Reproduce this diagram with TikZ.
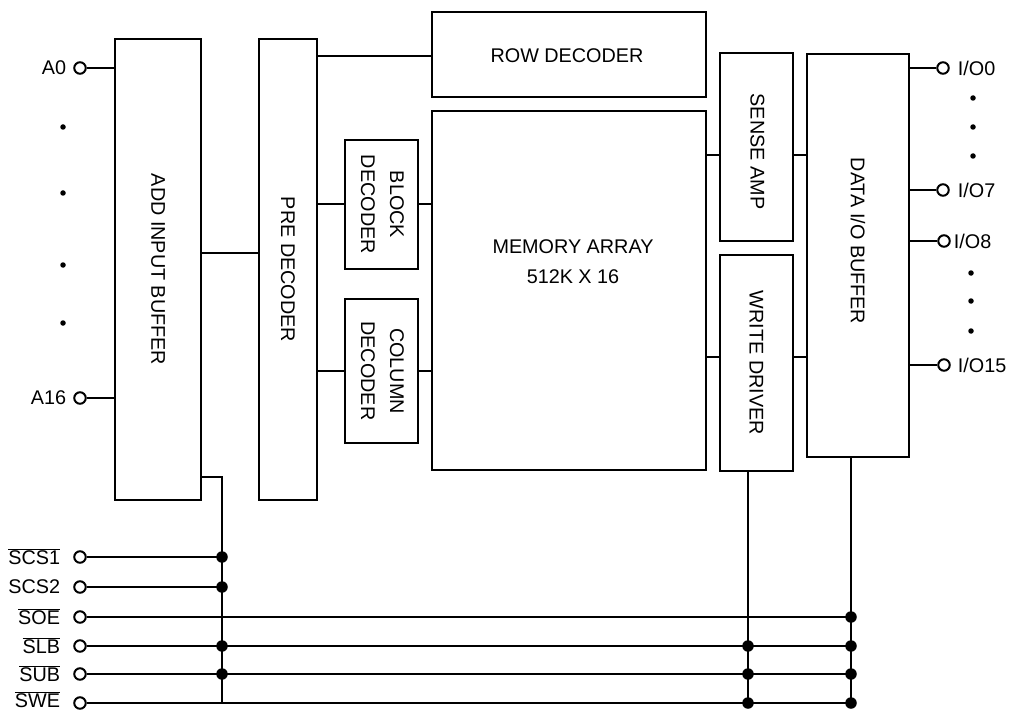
\documentclass[tikz,border=0pt]{standalone}
\usepackage{fontspec}
\setmainfont{Liberation Sans}
\usetikzlibrary{calc}
\begin{document}
\begin{tikzpicture}[x=1pt,y=-1pt,
  every node/.style={font=\fontsize{19.8}{29}\selectfont},
  box/.style={draw,line width=2pt,inner sep=0pt},
  wire/.style={line width=2pt},
  pincirc/.style={circle,draw,line width=2pt,minimum size=11.5pt,inner sep=0pt,fill=white},
  lab/.style={inner sep=0pt},
  jdot/.style={circle,fill=black,minimum size=11.5pt,inner sep=0pt},
  sdot/.style={circle,fill=black,minimum size=5.5pt,inner sep=0pt}]
\useasboundingbox (0,0) rectangle (1019,711);
% boxes
\node[box,minimum width=86pt,minimum height=461pt] (addbuf) at (158,269.5) {\rotatebox{-90}{ADD INPUT BUFFER}};
\node[box,minimum width=58pt,minimum height=461pt] (predec) at (288,269.5) {\rotatebox{-90}{PRE DECODER}};
\node[box,minimum width=274pt,minimum height=85pt] (row) at (569,54.5) {};
\node (rowt) at (567,56) {ROW DECODER};
\node[box,minimum width=274pt,minimum height=359pt] (mem) at (569,290.5) {};
\node (memt1) at (573,247) {MEMORY ARRAY};
\node (memt2) at (573,277) {512K X 16};
\node[box,minimum width=73pt,minimum height=129pt] (block) at (381.5,204.5) {\rotatebox{-90}{\begin{tabular}{@{}c@{}}BLOCK\\DECODER\end{tabular}}};
\node[box,minimum width=73pt,minimum height=144pt] (col) at (381.5,371) {\rotatebox{-90}{\begin{tabular}{@{}c@{}}COLUMN\\DECODER\end{tabular}}};
\node[box,minimum width=73pt,minimum height=188pt] (sense) at (756.5,147) {};
\node (senset) at (757.5,151.5) {\rotatebox{-90}{SENSE AMP}};
\node[box,minimum width=73pt,minimum height=216pt] (wd) at (756.5,363) {\rotatebox{-90}{WRITE DRIVER}};
\node[box,minimum width=102pt,minimum height=403pt] (dio) at (858,255.5) {};
\node (diot) at (858,241) {\rotatebox{-90}{DATA I/O BUFFER}};
% level coordinates
\coordinate (y56) at (0,56);
\coordinate (y253) at (0,253);
\coordinate (y155) at (0,155);
\coordinate (y357) at (0,357);
% internal wires
\draw[wire] (predec.east |- y56) -- (row.west |- y56);
\draw[wire] (addbuf.east |- y253) -- (predec.west |- y253);
\draw[wire] (block.west) -- (predec.east |- block.west);
\draw[wire] (block.east) -- (mem.west |- block.east);
\draw[wire] (col.west) -- (predec.east |- col.west);
\draw[wire] (col.east) -- (mem.west |- col.east);
\draw[wire] (mem.east |- y155) -- (sense.west |- y155);
\draw[wire] (sense.east |- y155) -- (dio.west |- y155);
\draw[wire] (mem.east |- y357) -- (wd.west |- y357);
\draw[wire] (wd.east |- y357) -- (dio.west |- y357);
% address inputs
\node[pincirc] (a0) at (80,68) {};
\node[lab,anchor=east,xshift=-7pt] (a0l) at (a0.west) {A0};
\draw[wire] (a0.east) -- (addbuf.west |- a0);
\node[pincirc] (a16) at (80,398) {};
\node[lab,anchor=east,xshift=-7pt] (a16l) at (a16.west) {A16};
\draw[wire] (a16.east) -- (addbuf.west |- a16);
\node[sdot] (d1) at (63,127) {};
\node[sdot] (d2) at (63,193) {};
\node[sdot] (d3) at (63,265) {};
\node[sdot] (d4) at (63,323) {};
% I/O outputs
\node[pincirc] (io0) at (943,68) {};
\node[lab,anchor=west,xshift=8pt] (io0l) at (io0.east) {I/O0};
\draw[wire] (dio.east |- io0) -- (io0.west);
\node[pincirc] (io7) at (943,190) {};
\node[lab,anchor=west,xshift=8pt] (io7l) at (io7.east) {I/O7};
\draw[wire] (dio.east |- io7) -- (io7.west);
\node[pincirc] (io8) at (944,241) {};
\node[lab,anchor=west,xshift=3pt] (io8l) at (io8.east) {I/O8};
\draw[wire] (dio.east |- io8) -- (io8.west);
\node[pincirc] (io15) at (944,365) {};
\node[lab,anchor=west,xshift=7pt] (io15l) at (io15.east) {I/O15};
\draw[wire] (dio.east |- io15) -- (io15.west);
\node[sdot] (e1) at (973,98) {};
\node[sdot] (e2) at (973,127) {};
\node[sdot] (e3) at (973,156) {};
\node[sdot] (e4) at (971,273) {};
\node[sdot] (e5) at (971,301) {};
\node[sdot] (e6) at (971,331) {};
% control inputs
\foreach \n/\y/\t/\ys in {scsa/557/{$\overline{\hbox{SCS1}}$}/0,scsb/587/{SCS2}/0,soe/617/{$\overline{\hbox{SOE}}$}/0,slb/646/{$\overline{\hbox{SLB}}$}/0,sub/674/{$\overline{\hbox{SUB}}$}/0,swe/703/{$\overline{\hbox{SWE}}$}/3}{
  \node[pincirc] (\n) at (80,\y) {};
  \node[lab,anchor=east,xshift=-13pt,yshift=\ys pt] (\n l) at (\n.west) {\t};
}
\coordinate (ja) at (222,477);
\coordinate (jb) at (222,703);
\coordinate (wa) at (748,471);
\coordinate (wb) at (748,703);
\coordinate (da) at (851,457);
\coordinate (db) at (851,703);
\draw[wire] (addbuf.east |- ja) -- (ja) -- (jb);
\draw[wire] (wa) -- (wb);
\draw[wire] (da) -- (db);
\draw[wire] (scsa.east) -- (ja |- scsa);
\draw[wire] (scsb.east) -- (ja |- scsb);
\draw[wire] (soe.east) -- (da |- soe);
\draw[wire] (slb.east) -- (da |- slb);
\draw[wire] (sub.east) -- (da |- sub);
\draw[wire] (swe.east) -- (da |- swe);
\node[jdot] at (ja |- scsa) {};
\node[jdot] at (ja |- scsb) {};
\node[jdot] at (ja |- slb) {};
\node[jdot] at (ja |- sub) {};
\node[jdot] at (wa |- slb) {};
\node[jdot] at (wa |- sub) {};
\node[jdot] at (wa |- swe) {};
\node[jdot] at (da |- soe) {};
\node[jdot] at (da |- slb) {};
\node[jdot] at (da |- sub) {};
\node[jdot] at (da |- swe) {};
\end{tikzpicture}
\end{document}
